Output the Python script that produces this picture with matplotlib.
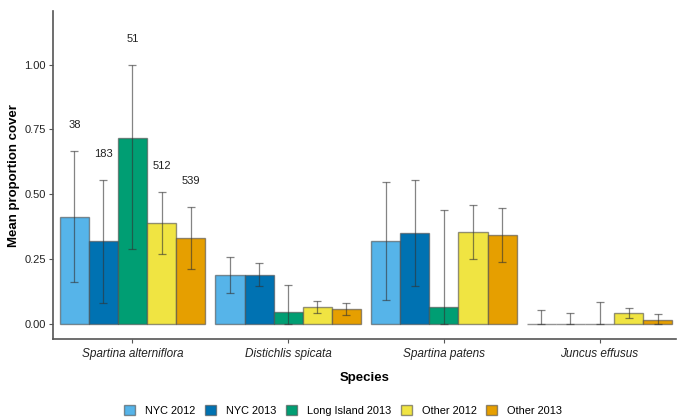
import numpy as np
import matplotlib.pyplot as plt
from matplotlib.patches import Patch

plt.rcParams['font.family'] = ['Liberation Sans', 'DejaVu Sans']

species = ['Spartina alterniflora', 'Distichlis spicata', 'Spartina patens', 'Juncus effusus']
groups = ['NYC 2012', 'NYC 2013', 'Long Island 2013', 'Other 2012', 'Other 2013']
colors = ['#56B4E9', '#0072B2', '#009E73', '#F0E442', '#E69F00']

# mean cover per species, one list per group
nyc_2012 = [0.412, 0.189, 0.317, 0.0]
nyc_2013 = [0.317, 0.189, 0.348, 0.0]
li_2013 = [0.716, 0.043, 0.064, 0.0]
other_2012 = [0.388, 0.0625, 0.352, 0.039]
other_2013 = [0.331, 0.055, 0.341, 0.012]

# error bar limits
nyc_2012_lo = [0.159, 0.119, 0.089, 0.0]
nyc_2012_hi = [0.667, 0.257, 0.545, 0.051]
nyc_2013_lo = [0.078, 0.144, 0.144, 0.0]
nyc_2013_hi = [0.553, 0.235, 0.553, 0.041]
li_2013_lo = [0.286, 0.0, 0.0, 0.0]
li_2013_hi = [1.0, 0.147, 0.438, 0.082]
other_2012_lo = [0.268, 0.039, 0.248, 0.020]
other_2012_hi = [0.508, 0.088, 0.456, 0.059]
other_2013_lo = [0.209, 0.032, 0.236, 0.0]
other_2013_hi = [0.451, 0.080, 0.445, 0.036]

# sample sizes shown above the first species
n_labels = ['38', '183', '51', '512', '539']

means = [nyc_2012, nyc_2013, li_2013, other_2012, other_2013]
lows = [nyc_2012_lo, nyc_2013_lo, li_2013_lo, other_2012_lo, other_2013_lo]
highs = [nyc_2012_hi, nyc_2013_hi, li_2013_hi, other_2012_hi, other_2013_hi]

fig = plt.figure(figsize=(6.8, 4.17), dpi=100)
ax = fig.add_axes([0.0775, 0.1863, 0.9162, 0.7873])

x = np.arange(1, len(species) + 1)
w = 0.1868
edge = (0.3, 0.3, 0.3, 0.6)
errc = (0.2, 0.2, 0.2, 0.6)

for i, (m, lo, hi) in enumerate(zip(means, lows, highs)):
    xs = x + (i - 2) * w
    m = np.array(m)
    ax.bar(xs, m, width=w, color=colors[i], edgecolor=edge, linewidth=1.0, zorder=2)
    yerr = [m - np.array(lo), np.array(hi) - m]
    ax.errorbar(xs, m, yerr=yerr, fmt='none', ecolor=errc, elinewidth=0.9,
                capsize=2.9, capthick=0.9, zorder=3)
    ax.text(xs[0], hi[0] + 0.1, n_labels[i], ha='center', va='center', fontsize=8,
            color='#222222')

ax.set_xlim(0.4875, 4.489)
ax.set_ylim(-0.061, 1.2066)
ax.set_yticks([0, 0.25, 0.5, 0.75, 1.0])
ax.set_yticklabels(['0.00', '0.25', '0.50', '0.75', '1.00'])
ax.set_xticks(x)
ax.set_xticklabels(species, style='italic', fontsize=8.5)

for s in ['top', 'right']:
    ax.spines[s].set_visible(False)
for s in ['left', 'bottom']:
    ax.spines[s].set_color('#555555')
    ax.spines[s].set_linewidth(1.2)
ax.tick_params(axis='both', colors='#555555', length=3, width=0.8,
               labelcolor='#222222', pad=2)
ax.tick_params(axis='y', labelsize=8)
ax.tick_params(axis='x', pad=3)

ax.set_ylabel('Mean proportion cover', fontsize=9.5, fontweight='bold', labelpad=3)
ax.set_xlabel('Species', fontsize=9.5, fontweight='bold', labelpad=9)

handles = [Patch(facecolor=c, edgecolor=edge, linewidth=1.0) for c in colors]
fig.legend(handles, groups, loc='center', bbox_to_anchor=(0.5044, 0.016), ncol=5,
           frameon=False, fontsize=7.9, handlelength=1.0, handleheight=1.0,
           columnspacing=0.9, handletextpad=0.9, borderpad=0.2)

fig.savefig('out.png', dpi=100)
